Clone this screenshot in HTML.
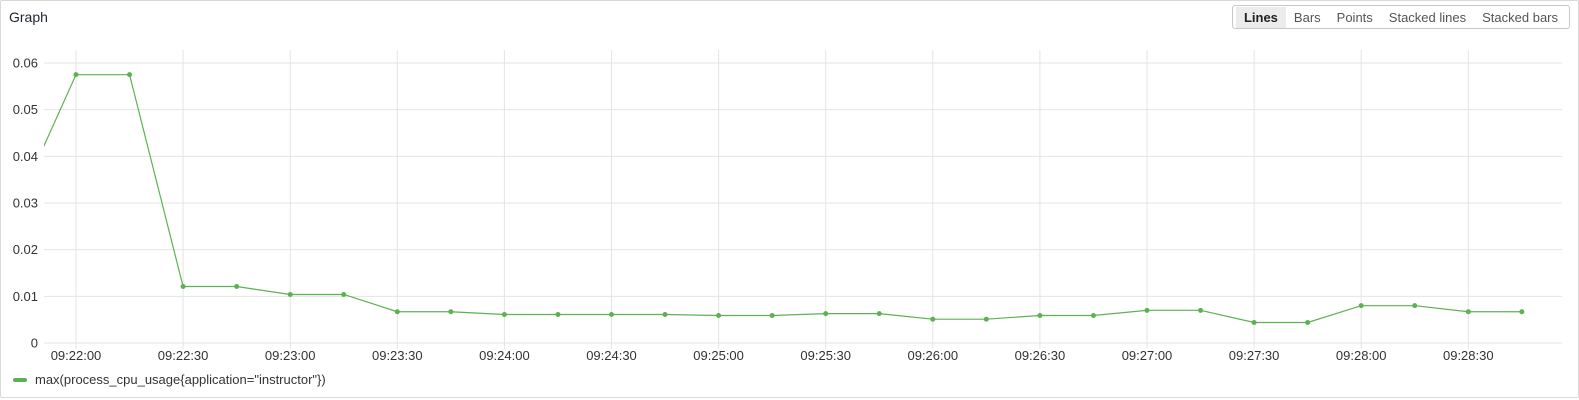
<!DOCTYPE html>
<html><head><meta charset="utf-8"><style>
body{margin:0;width:1579px;height:400px;background:#fff;font-family:"Liberation Sans",sans-serif;overflow:hidden}
.panel{position:absolute;left:0;top:0;width:1577px;height:396px;border:1px solid #d9d9d9;border-radius:2px}
.title{position:absolute;left:9px;top:9px;font-size:14px;color:#1f2430}
.btns{position:absolute;right:9px;top:5px;height:22px;border:1px solid #c8c8c8;border-radius:3px;display:flex;font-size:13px;color:#555;padding:0 3px;align-items:center}
.btns span{padding:3px 8px}
.btns .on{background:#ececec;color:#222;font-weight:600}
svg{position:absolute;left:0;top:0}
</style></head><body>
<div class="panel"></div>
<div class="title">Graph</div>
<div class="btns">
<span class="on">Lines</span>
<span>Bars</span>
<span>Points</span>
<span>Stacked lines</span>
<span>Stacked bars</span>
</div>
<svg id="c" width="1579" height="400"></svg>
<script>
const yTicks=[0,0.01,0.02,0.03,0.04,0.05,0.06];
const yLabels=["0","0.01","0.02","0.03","0.04","0.05","0.06"];
const xTickSecs=[0,30,60,90,120,150,180,210,240,270,300,330,360,390];
const xLabels=["09:22:00","09:22:30","09:23:00","09:23:30","09:24:00","09:24:30","09:25:00","09:25:30","09:26:00","09:26:30","09:27:00","09:27:30","09:28:00","09:28:30"];
const times=[-15,0,15,30,45,60,75,90,105,120,135,150,165,180,195,210,225,240,255,270,285,300,315,330,345,360,375,390,405];
const values=[0.032,0.0575,0.0575,0.0121,0.0121,0.0104,0.0104,0.0067,0.0067,0.0061,0.0061,0.0061,0.0061,0.0059,0.0059,0.0063,0.0063,0.0051,0.0051,0.0059,0.0059,0.007,0.007,0.0044,0.0044,0.008,0.008,0.0067,0.0067];
const NS="http://www.w3.org/2000/svg",svg=document.getElementById('c');
const L=44,R=1562,T=50,B=343;
const X=s=>76+s*107.1/30, Y=v=>343-v*4666.7;
function mk(t,a,p){const e=document.createElementNS(NS,t);for(const k in a)e.setAttribute(k,a[k]);(p||svg).appendChild(e);return e;}
const defs=mk('defs',{});const cp=mk('clipPath',{id:'cp'},defs);mk('rect',{x:L,y:T-5,width:R-L,height:B-T+10},cp);
yTicks.forEach((v,i)=>{const g=mk('line',{x1:L,x2:R,y1:Y(v),y2:Y(v),stroke:'#e4e4e4'});

const t=mk('text',{x:38,y:Y(v)+4.5,'text-anchor':'end','font-size':13,fill:'#333'});t.textContent=yLabels[i];
});
xTickSecs.forEach((s,i)=>{const g=mk('line',{x1:X(s),x2:X(s),y1:T,y2:B+6,stroke:'#e4e4e4'});

const t=mk('text',{x:X(s),y:360,'text-anchor':'middle','font-size':13,fill:'#333'});t.textContent=xLabels[i];
});
const pl=mk('polyline',{points:times.map((s,i)=>X(s)+','+Y(values[i])).join(' '),fill:'none',stroke:'#5cb152','stroke-width':1.2,'clip-path':'url(#cp)'});

times.forEach((s,i)=>{if(X(s)<L)return;const c=mk('circle',{cx:X(s),cy:Y(values[i]),r:2.5,fill:'#5cb152'});
});
const sw=mk('rect',{x:13,y:378,width:14,height:4,rx:2,fill:'#5cb152'});

const lt=mk('text',{x:35,y:384,'font-size':13,fill:'#333'});lt.textContent='max(process_cpu_usage{application="instructor"})';

</script>
</body></html>
